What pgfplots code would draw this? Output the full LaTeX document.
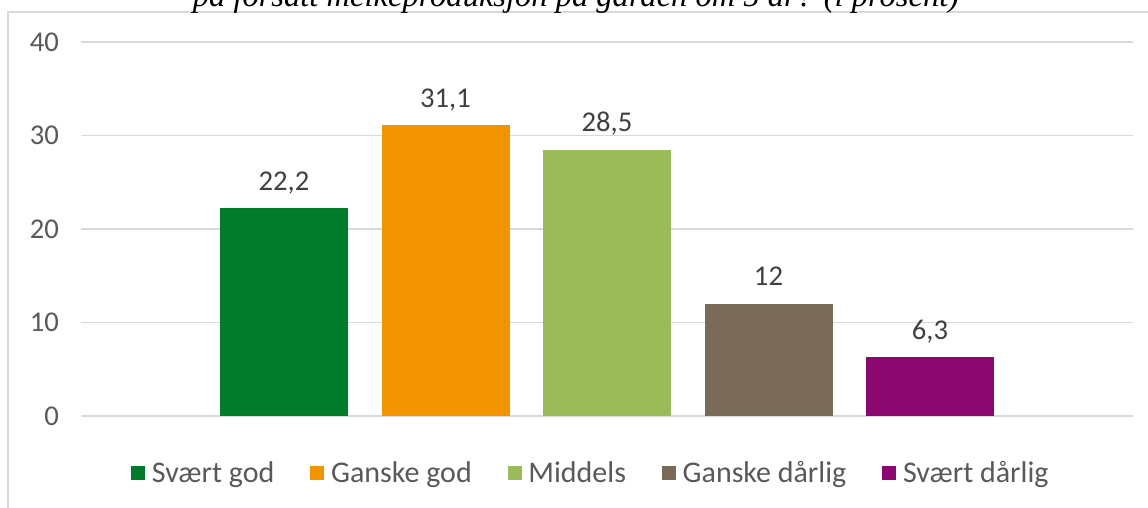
\documentclass[border=0pt]{standalone}
\usepackage{fontspec}
\setmainfont{Carlito}
\newfontfamily\titlefont{Liberation Serif}
\usepackage{pgfplots}
\pgfplotsset{compat=1.18}
\definecolor{gridgray}{RGB}{217,217,217}
\definecolor{ticktext}{RGB}{89,89,89}
\definecolor{labeltext}{RGB}{64,64,64}
\definecolor{c1}{RGB}{0,125,43}
\definecolor{c2}{RGB}{242,148,0}
\definecolor{c3}{RGB}{155,187,89}
\definecolor{c4}{RGB}{122,106,88}
\definecolor{c5}{RGB}{140,8,112}
\begin{document}
\begin{tikzpicture}
\useasboundingbox (0,0) rectangle (861pt,-380.25pt);
\clip (0,0) rectangle (861pt,-380.25pt);
\draw[gridgray, line width=1.2pt] (6pt,-9pt) rectangle (880pt,-400pt);
\node[anchor=base, inner sep=0pt] at (432pt,-4.5pt) {\titlefont\itshape\fontsize{24.4pt}{28pt}\selectfont på forsatt melkeproduksjon på garden om 5 år? (i prosent)};
\begin{axis}[
  at={(60.75pt,-312pt)}, anchor=south west,
  scale only axis, width=789pt, height=280.5pt,
  xmin=-1.257, xmax=5.257, ymin=0, ymax=40,
  ytick={0,10,20,30,40}, xtick=\empty,
  axis line style={draw=none},
  major tick length=0pt,
  ymajorgrids, major grid style={gridgray, line width=1.1pt},
  /pgf/number format/assume math mode=true,
  /pgf/number format/use comma,
  ticklabel style={font=\fontsize{21.5pt}{25pt}\selectfont, text=ticktext},
  yticklabel style={xshift=-13pt},
  ybar, bar width=96pt, bar shift=0pt,
  nodes near coords,
  every node near coord/.append style={font=\fontsize{21.5pt}{25pt}\selectfont, text=labeltext, anchor=base, inner sep=0pt, yshift=13.5pt},
  legend columns=5,
  legend style={draw=none, at={(0.485,-0.152)}, anchor=center, font=\fontsize{22.5pt}{26pt}\selectfont, text=ticktext,
    /tikz/every even column/.append style={column sep=25pt}},
  legend image code/.code={\fill[#1] (0pt,-5.25pt) rectangle (10.5pt,5.25pt); \path (13.5pt,0pt);},
]
\addplot[fill=c1, draw=none] coordinates {(0,22.2)};
\addplot[fill=c2, draw=none] coordinates {(1,31.1)};
\addplot[fill=c3, draw=none] coordinates {(2,28.5)};
\addplot[fill=c4, draw=none] coordinates {(3,12)};
\addplot[fill=c5, draw=none] coordinates {(4,6.3)};
\legend{Svært god, Ganske god, Middels, Ganske dårlig, Svært dårlig}
\end{axis}
\end{tikzpicture}
\end{document}
